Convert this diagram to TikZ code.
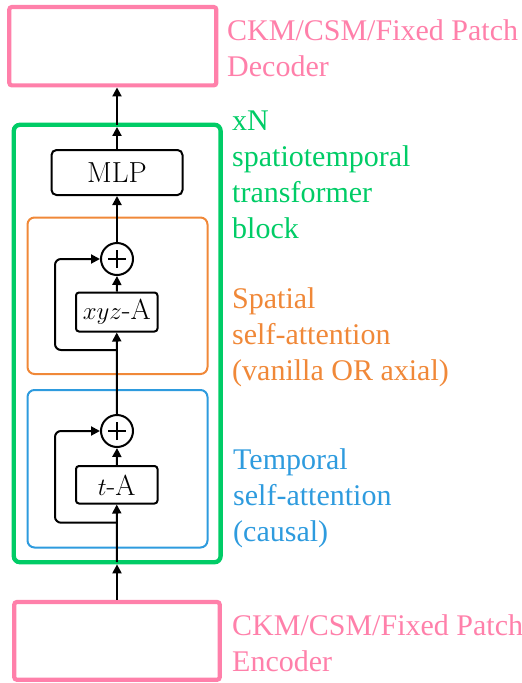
\documentclass[tikz,border=0pt]{standalone}
\usepackage{fontspec}
\newfontfamily\labfont{Liberation Serif}
\usetikzlibrary{arrows.meta}
\definecolor{cpink}{RGB}{255,128,170}
\definecolor{cgreen}{RGB}{0,204,102}
\definecolor{corange}{RGB}{240,136,56}
\definecolor{cblue}{RGB}{46,155,222}
\begin{document}
\begin{tikzpicture}[x=1pt,y=-1pt,
  arr/.style={draw=black,line width=2pt,-{Triangle[length=9pt,width=9pt]}},
  bigbox/.style={draw=#1,line width=4.2pt,rounded corners=2.5pt,inner sep=0pt},
  grpbox/.style={draw=#1,line width=2pt,rounded corners=7pt,inner sep=0pt},
  opbox/.style={draw=black,line width=2pt,inner sep=0pt,font=\fontsize{29}{34}\selectfont},
  sumnode/.style={draw=black,line width=2pt,circle,minimum size=32pt,inner sep=0pt},
  plusline/.style={line width=2pt},
  lbl/.style={anchor=base west,inner sep=0pt,font={\labfont\fontsize{30}{36}\selectfont}}]
\useasboundingbox (0,0) rectangle (522,683);
% outer boxes
\node[bigbox=cpink, minimum width=207pt, minimum height=78.3pt] (dec) at (112.8,46.2) {};
\node[bigbox=cgreen, line width=4.3pt, rounded corners=6pt, minimum width=206.8pt, minimum height=437.4pt] (green) at (117.2,343.5) {};
\node[bigbox=cpink, minimum width=205.4pt, minimum height=77.7pt] (enc) at (117,640.9) {};
% group boxes
\node[grpbox=corange, minimum width=180pt, minimum height=156.5pt] (orange) at (117.5,295.75) {};
\node[grpbox=cblue, minimum width=180pt, minimum height=157.5pt] (blue) at (117.5,468.75) {};
% operations
\node[opbox, rounded corners=5pt, minimum width=131pt, minimum height=45pt] (mlp) at (117,172.5) {MLP};
\node[opbox, rounded corners=3pt, minimum width=81.5pt, minimum height=39pt] (xyz) at (116.75,312) {$xyz$-A};
\node[opbox, rounded corners=3pt, minimum width=81.5pt, minimum height=37.5pt] (ta) at (116.75,484.75) {$t$-A};
\node[sumnode] (c1) at (117,259) {};
\node[sumnode] (c2) at (117,431) {};
\draw[plusline] ([yshift=-9pt]c1.center) -- ([yshift=9pt]c1.center) ([xshift=-9pt]c1.center) -- ([xshift=9pt]c1.center);
\draw[plusline] ([yshift=-9pt]c2.center) -- ([yshift=9pt]c2.center) ([xshift=-9pt]c2.center) -- ([xshift=9pt]c2.center);
% connectors
\coordinate (gtop) at (117,124.8);
\coordinate (gbot) at (117,562.2);
\coordinate (s1) at (117,350);
\coordinate (s2) at (117,522.7);
\draw[arr] (enc.north -| gbot) -- (green.south -| gbot);
\draw[arr] (gbot) -- (ta.south);
\draw[arr] (ta.north) -- (c2.south);
\draw[arr] (c2.north) -- (xyz.south);
\draw[arr] (xyz.north) -- (c1.south);
\draw[arr] (c1.north) -- (mlp.south);
\draw[arr, shorten >=4.3pt] (mlp.north) -- (green.north -| gtop);
\draw[arr] (gtop) -- (dec.south -| gtop);
\draw[arr, rounded corners=6pt] (s1) -- (55,350) |- (c1.west);
\draw[arr, rounded corners=6pt] (s2) -- (55,522.7) |- (c2.west);
% labels
\node[lbl, text=cpink] (declab) at (227,40) {\parbox[t]{320pt}{CKM/CSM/Fixed Patch\\Decoder}};
\node[lbl, text=cgreen] (greenlab) at (232,130) {\parbox[t]{320pt}{xN\\spatiotemporal\\transformer\\block}};
\node[lbl, text=corange] (orangelab) at (232,308) {\parbox[t]{320pt}{Spatial\\self-attention\\(vanilla OR axial)}};
\node[lbl, text=cblue] (bluelab) at (233,469) {\parbox[t]{320pt}{Temporal\\self-attention\\(causal)}};
\node[lbl, text=cpink] (enclab) at (232,635) {\parbox[t]{320pt}{CKM/CSM/Fixed Patch\\Encoder}};
\end{tikzpicture}
\end{document}
